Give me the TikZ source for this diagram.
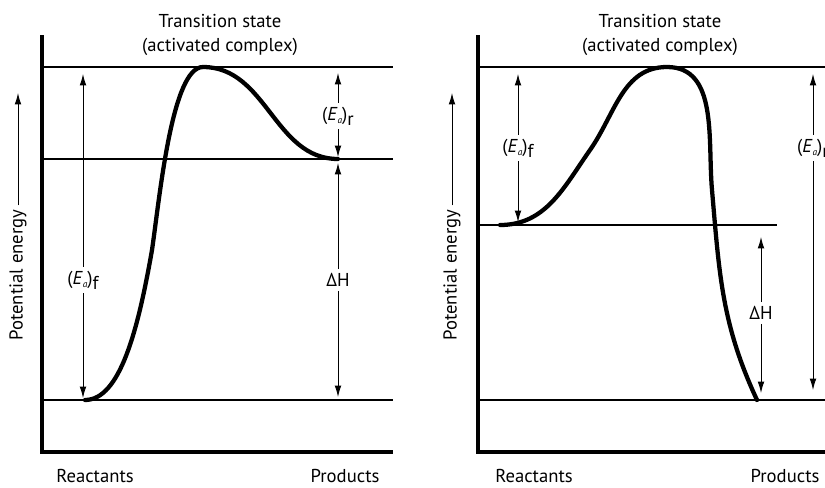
\documentclass[tikz,border=0pt]{standalone}
\usepackage{fontspec}
\setmainfont{PT Sans}
\usetikzlibrary{arrows.meta}

\newcommand{\eact}[1]{(\textit{E}\raisebox{-0.4ex}{\scriptsize\textit{a}})\raisebox{-0.55ex}{#1}}

\begin{document}
\begin{tikzpicture}[
		x=0.75pt, y=0.75pt,
		every node/.style={font=\fontsize{14}{18.5}\selectfont, inner sep=3pt},
		axis/.style={line width=3.5pt},
		level/.style={line width=1.6pt},
		curve/.style={line width=3.2pt, line cap=round},
		arrow/.style={-{Latex[length=8.5pt,width=5pt]}, line width=0.7pt},
		bottomtext/.style={inner sep=0pt}
		]
		\useasboundingbox (0,0) rectangle (825,-487);
		\clip (0,0) rectangle (825,-487);
		
		% left panel
		\coordinate (L-ytop) at (42,-35);
		\coordinate (L-orig) at (42,-452);
		\coordinate (L-xend) at (393,-452);
		\draw[axis] (L-ytop) -- (L-orig) -- (L-xend);
		
		\draw[level] (42,-67) -- (393,-67);
		\draw[level] (42,-159) -- (393,-159);
		\draw[level] (42,-400) -- (393,-400);
		
		\draw[curve] (85,-400) .. controls (120,-400) and (138,-330) .. (152,-250) .. controls (160,-195) and (172,-67) .. (203,-67) to[out=0,in=180] (338,-159);
		
		\node (L-ts) at (220,-35) [align=center] {Transition state\\(activated complex)};
		\node (L-react) at (95,-476) [bottomtext] {Reactants};
		\node (L-prod) at (345,-476) [bottomtext] {Products};
		
		\node (L-pe) at (18,-275) [rotate=90] {Potential energy};
		\coordinate (L-pe-tip) at (18,-93);
		\draw[arrow] (L-pe) -- (L-pe-tip);
		
		\node (L-eaf) at (83,-280) {\eact{f}};
		\coordinate (L-eaf-up) at (83,-74);
		\coordinate (L-eaf-dn) at (83,-398);
		\draw[arrow] (L-eaf) -- (L-eaf-up);
		\draw[arrow] (L-eaf) -- (L-eaf-dn);
		
		\node (L-ear) at (338,-116) {\eact{r}};
		\coordinate (L-ear-up) at (338,-73);
		\coordinate (L-ear-dn) at (338,-157);
		\draw[arrow] (L-ear) -- (L-ear-up);
		\draw[arrow] (L-ear) -- (L-ear-dn);
		
		\node (L-dh) at (338,-280) {ΔH};
		\coordinate (L-dh-up) at (338,-163);
		\coordinate (L-dh-dn) at (338,-397);
		\draw[arrow] (L-dh) -- (L-dh-up);
		\draw[arrow] (L-dh) -- (L-dh-dn);
		
		% right panel
		\coordinate (R-ytop) at (478,-35);
		\coordinate (R-orig) at (478,-452);
		\coordinate (R-xend) at (830,-452);
		\draw[axis] (R-ytop) -- (R-orig) -- (R-xend);
		
		\draw[level] (478,-67) -- (830,-67);
		\draw[level] (478,-225) -- (777,-225);
		\draw[level] (478,-400) -- (830,-400);
		
		\draw[curve] (500,-225) to[out=0,in=-125] (590,-150) to[out=55,in=180] (667,-67) to[out=0,in=95] (712,-190) to[out=-85,in=115] (757,-400);
		
		\node (R-ts) at (660,-35) [align=center] {Transition state\\(activated complex)};
		\node (R-react) at (534,-476) [bottomtext] {Reactants};
		\node (R-prod) at (785,-476) [bottomtext] {Products};
		
		\node (R-pe) at (452,-275) [rotate=90] {Potential energy};
		\coordinate (R-pe-tip) at (452,-93);
		\draw[arrow] (R-pe) -- (R-pe-tip);
		
		\node (R-eaf) at (518,-148) {\eact{f}};
		\coordinate (R-eaf-up) at (518,-74);
		\coordinate (R-eaf-dn) at (518,-222);
		\draw[arrow] (R-eaf) -- (R-eaf-up);
		\draw[arrow] (R-eaf) -- (R-eaf-dn);
		
		\node (R-dh) at (761,-313) {ΔH};
		\coordinate (R-dh-up) at (761,-237);
		\coordinate (R-dh-dn) at (761,-393);
		\draw[arrow] (R-dh) -- (R-dh-up);
		\draw[arrow] (R-dh) -- (R-dh-dn);
		
		\node (R-ear) at (813,-148) {\eact{r}};
		\coordinate (R-ear-up) at (813,-74);
		\coordinate (R-ear-dn) at (813,-390);
		\draw[arrow] (R-ear) -- (R-ear-up);
		\draw[arrow] (R-ear) -- (R-ear-dn);
		
	\end{tikzpicture}
\end{document}
